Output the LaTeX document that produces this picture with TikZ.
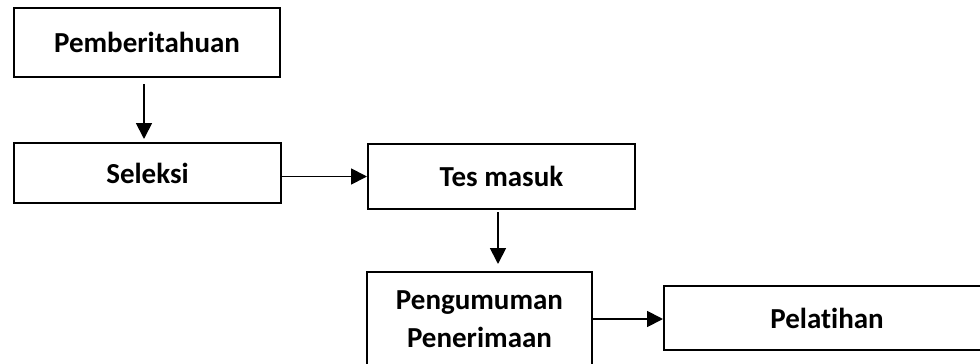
\documentclass[tikz,border=0pt]{standalone}
\usepackage{fontspec}
\setmainfont{Carlito}[Ligatures=NoCommon]
\usepackage{tikz}
\usetikzlibrary{arrows.meta}

\begin{document}
\begin{tikzpicture}[x=1pt,y=-1pt]
		\useasboundingbox (0,0) rectangle (980,364);
		\clip (0,0) rectangle (980,364);
		\tikzstyle{every node}+=[draw,line width=2pt,rectangle,inner sep=0pt,align=center,font=\fontsize{29}{38}\selectfont\bfseries]
		\node[minimum width=266,minimum height=69] (pemb) at (147,42.5) {Pemberitahuan};
		\node[minimum width=267,minimum height=60] (sel) at (147.5,173) {Seleksi};
		\node[minimum width=267,minimum height=65] (tes) at (501.5,176.5) {Tes masuk};
		\node[minimum width=225,minimum height=94] (peng) at (479.5,319) {Pengumuman\\Penerimaan};
		\node[minimum width=326,minimum height=64] (pel) at (827,318) {Pelat\kern0pt ihan};
		\tikzstyle{every edge}+=[-{Triangle[length=16pt,width=16pt]},line width=1.8pt]
		\coordinate (p1) at ([xshift=-3,yshift=-6]pemb.south);
		\coordinate (t1) at ([xshift=-3.5,yshift=-2]tes.south);
		\draw (p1) edge ([yshift=3]p1 |- sel.north)
		(sel.east |- tes.west) edge (tes.west)
		(t1) edge ([yshift=7]t1 |- peng.north)
		(peng.east) edge (pel.west |- peng.east);
		\end{tikzpicture}
\end{document}
